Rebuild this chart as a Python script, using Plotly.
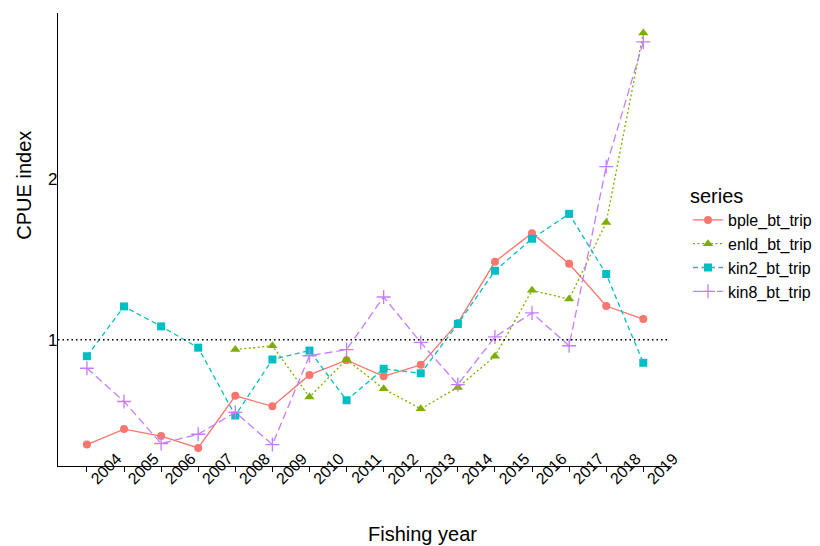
import plotly.graph_objects as go

years = list(range(2004, 2020))
year_labels = [str(y) for y in years]

bple_bt_trip = [0.636, 0.680, 0.660, 0.627, 0.785, 0.750, 0.859, 0.915,
                0.854, 0.897, 1.075, 1.399, 1.583, 1.387, 1.156, 1.093]
enld_years = list(range(2008, 2020))
enld_bt_trip = [0.958, 0.974, 0.781, 0.918, 0.809, 0.742, 0.814, 0.931,
                1.237, 1.191, 1.657, 3.753]
kin2_bt_trip = [0.931, 1.154, 1.059, 0.966, 0.721, 0.918, 0.954, 0.770,
                0.882, 0.865, 1.070, 1.346, 1.545, 1.720, 1.327, 0.905]
kin8_bt_trip = [0.884, 0.766, 0.639, 0.665, 0.731, 0.636, 0.933, 0.958,
                1.202, 0.988, 0.824, 1.012, 1.122, 0.974, 2.108, 3.611]

y_ticks = [1, 2]
y_tick_labels = ["1", "2"]

FONT = "Liberation Sans, Arial, sans-serif"

series = [
    ("bple_bt_trip", years, bple_bt_trip, "#F8766D", "solid", "circle", 8, 0),
    ("enld_bt_trip", enld_years, enld_bt_trip, "#7CAE00", "2px,2.5px", "triangle-up", 9, 0),
    ("kin2_bt_trip", years, kin2_bt_trip, "#00BFC4", "5px,3.5px", "square", 8, 0),
    ("kin8_bt_trip", years, kin8_bt_trip, "#C77CFF", "8px,4px", "cross-thin", 10, 1.3),
]

fig = go.Figure()
for name, xs, ys, col, dash, sym, size, mlw in series:
    fig.add_trace(go.Scatter(
        x=xs, y=ys, name=name, mode="lines+markers",
        line=dict(color=col, width=1.3, dash=dash),
        marker=dict(symbol=sym, size=size, color=col,
                    line=dict(color=col, width=mlw)),
    ))

fig.add_hline(y=1, line=dict(color="black", width=1.5, dash="1.5px,3px"))

# page body has an 8px margin; compensate so the plot sits where the reference does
fig.update_layout(
    width=812, height=538,
    margin=dict(l=50, r=150, t=5, b=80, autoexpand=False),
    paper_bgcolor="white", plot_bgcolor="white",
    font=dict(family=FONT, color="black"),
    showlegend=True,
    legend=dict(
        title=dict(text="series", font=dict(size=20, family=FONT)),
        font=dict(size=16, family=FONT),
        x=1.0294, xanchor="left", y=0.638, yanchor="top",
        itemwidth=30, tracegroupgap=0,
    ),
    annotations=[
        dict(text="CPUE index", xref="paper", yref="paper",
             x=-0.0556, y=0.621, textangle=-90, showarrow=False,
             font=dict(size=20, family=FONT), xanchor="center", yanchor="middle"),
        dict(text="Fishing year", xref="paper", yref="paper",
             x=0.595, y=-0.151, showarrow=False,
             font=dict(size=20, family=FONT), xanchor="center", yanchor="middle"),
    ],
)

fig.update_xaxes(
    range=[2003.22, 2019.72],
    tickvals=years, ticktext=year_labels, tickangle=-45,
    tickfont=dict(size=16, family=FONT),
    ticks="outside", ticklen=5, tickcolor="black", tickwidth=1.2,
    showline=True, linecolor="black", linewidth=1.3,
    showgrid=False, zeroline=False,
    ticklabelshift=30, ticklabelstandoff=-29,
)
fig.update_yaxes(
    type="log",
    range=[-0.2366, 0.6117],
    tickvals=y_ticks, ticktext=y_tick_labels,
    tickfont=dict(size=17, family=FONT),
    ticks="", showline=True, linecolor="black", linewidth=1.3,
    showgrid=False, zeroline=False, ticklabelstandoff=-4,
)

fig.write_html("out.html")
